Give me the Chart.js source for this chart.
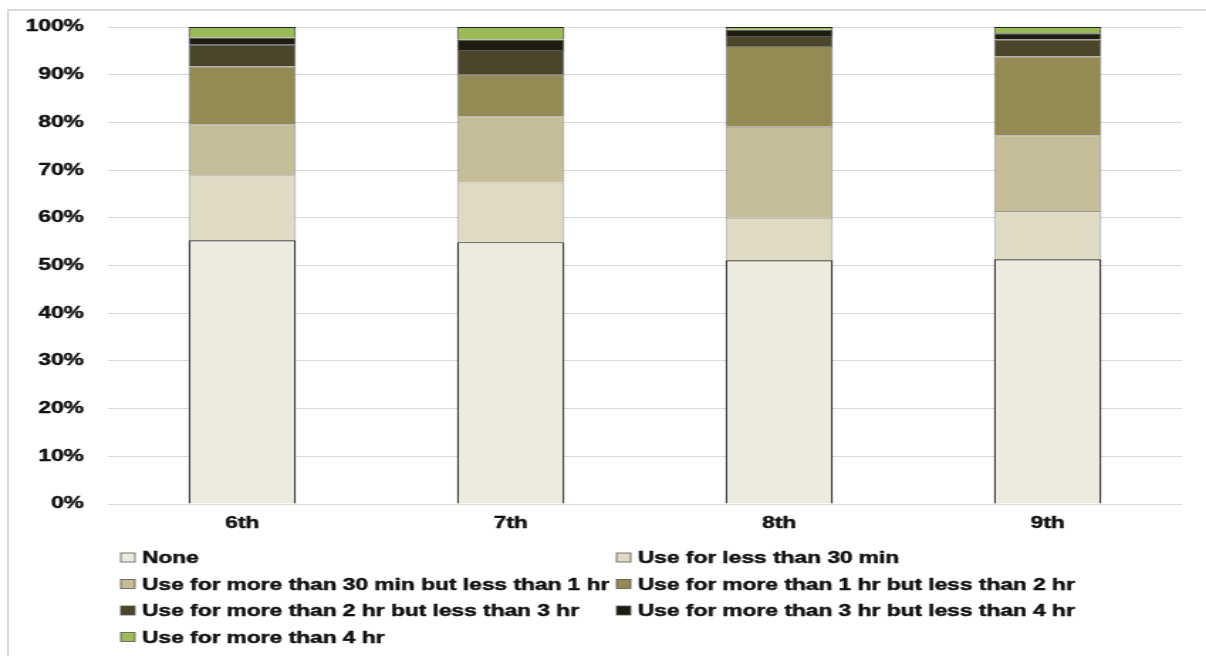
<!DOCTYPE html>
<html>
<head>
<meta charset="utf-8">
<script src="https://cdn.jsdelivr.net/npm/chart.js@4.4.1/dist/chart.umd.min.js"></script>
<style>
  html, body { margin: 0; padding: 0; background: #fff; overflow: hidden; }
  #frame {
    position: absolute; left: 7px; top: 9px; width: 1300px; height: 700px;
    border-left: 2px solid #dadada; border-top: 2px solid #dadada;
  }
  /* the chart is laid out narrow and widened, giving the broad lettering */
  #wrap {
    position: absolute; left: 0; top: 0; width: 849px; height: 656px;
    transform: scaleX(1.4205); transform-origin: 0 0;
  }
</style>
</head>
<body>
<div id="frame"></div>
<div id="wrap"><canvas id="c" width="849" height="656"></canvas></div>
<script>
// Grades on the x axis
const grades = ['6th', '7th', '8th', '9th'];

// Share of students (%) per daily usage band, one array per band
const none        = [55.3, 54.9, 51.1, 51.3];
const under30     = [13.6, 12.5,  8.9, 10.1];
const from30to60  = [10.7, 13.9, 19.1, 15.9];
const from1to2    = [12.1,  8.7, 16.9, 16.5];
const from2to3    = [ 4.6,  5.2,  2.1,  3.6];
const from3to4    = [ 1.5,  2.2,  1.3,  1.3];
const over4       = [ 2.2,  2.6,  0.6,  1.3];

// Band names
const bandLabels = [
  'None',
  'Use for less than 30 min',
  'Use for more than 30 min but less than 1 hr',
  'Use for more than 1 hr but less than 2 hr',
  'Use for more than 2 hr but less than 3 hr',
  'Use for more than 3 hr but less than 4 hr',
  'Use for more than 4 hr'
];

// Percentage axis ticks
const yTicks = [0, 10, 20, 30, 40, 50, 60, 70, 80, 90, 100];

const bandValues = [none, under30, from30to60, from1to2, from2to3, from3to4, over4];
const bandFills  = ['#edebe0', '#dfdac4', '#c5bd97', '#948a54', '#4a452b', '#1f1d12', '#9bbb59'];
const bandEdges  = ['#111', 'rgba(0,0,0,0.4)', 'rgba(0,0,0,0.45)', 'rgba(0,0,0,0.55)',
                    'rgba(0,0,0,0.65)', 'rgba(0,0,0,0.75)', '#222'];

const FONT = { family: '"Liberation Sans", Arial, sans-serif', size: 16, weight: 'bold' };
const INK = '#111';

// Two-column legend under the plot
const gridLegend = {
  id: 'gridLegend',
  afterDraw(chart) {
    const ctx = chart.ctx;
    const cols = [85, 434];
    const rows = [563, 589.5, 616, 642.5];
    ctx.save();
    ctx.font = 'bold 16px "Liberation Sans", Arial, sans-serif';
    ctx.textBaseline = 'alphabetic';
    chart.data.datasets.forEach((ds, i) => {
      const x = cols[i % 2];
      const base = rows[Math.floor(i / 2)];
      ctx.fillStyle = ds.backgroundColor;
      ctx.fillRect(x, base - 10, 10, 9);
      ctx.strokeStyle = '#555';
      ctx.lineWidth = 0.8;
      ctx.strokeRect(x, base - 10, 10, 9);
      ctx.fillStyle = INK;
      ctx.strokeStyle = INK;
      ctx.lineWidth = 0.45;
      ctx.fillText(ds.label, x + 15, base);
      ctx.strokeText(ds.label, x + 15, base);
    });
    ctx.restore();
  }
};

new Chart(document.getElementById('c'), {
  type: 'bar',
  data: {
    labels: grades,
    datasets: bandValues.map((vals, i) => ({
      label: bandLabels[i],
      data: vals,
      backgroundColor: bandFills[i],
      borderColor: bandEdges[i],
      borderWidth: i === 0 ? 1.2 : 1,
      barPercentage: 0.4,
      categoryPercentage: 1.0
    }))
  },
  options: {
    responsive: false,
    animation: false,
    layout: { padding: { left: 0, right: 17, top: 27, bottom: 112 } },
    plugins: {
      legend: { display: false },
      tooltip: { enabled: false }
    },
    scales: {
      x: {
        stacked: true,
        grid: { display: false, drawTicks: false },
        border: { display: false },
        ticks: { font: FONT, color: INK, padding: 10, textStrokeColor: INK, textStrokeWidth: 0.45 },
        afterFit(scale) { scale.height = 40; }
      },
      y: {
        stacked: true,
        min: 0,
        max: 100,
        afterBuildTicks(scale) { scale.ticks = yTicks.map(v => ({ value: v })); },
        grid: { color: '#d9d9d9', lineWidth: 1, drawTicks: false },
        border: { display: false },
        ticks: {
          font: FONT, color: INK, padding: 17, textStrokeColor: INK, textStrokeWidth: 0.45,
          callback: v => v + '%'
        },
        afterFit(scale) { scale.width = 76; }
      }
    }
  },
  plugins: [gridLegend]
});
</script>
</body>
</html>
